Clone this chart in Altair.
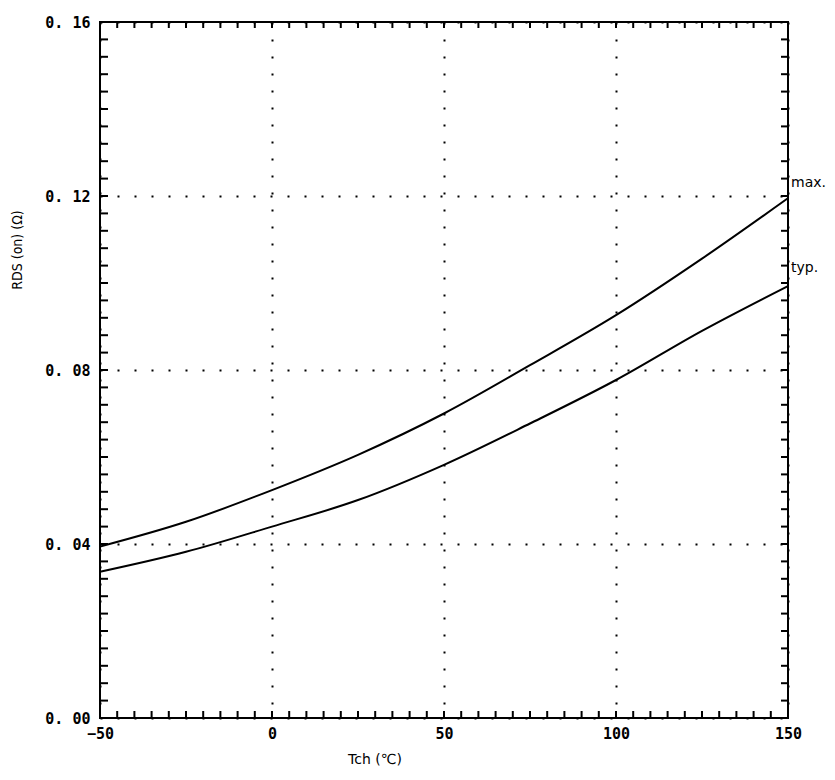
import altair as alt
import pandas as pd
import numpy as np

# Data
temps = [-50, -25, 0, 25, 50, 75, 100, 125, 150]
rds_max = [0.0394, 0.0451, 0.0524, 0.0605, 0.0700, 0.0811, 0.0926, 0.1056, 0.1195]
rds_typ = [0.0336, 0.0382, 0.0440, 0.0501, 0.0582, 0.0677, 0.0777, 0.0890, 0.0993]
x_major = [-50, 0, 50, 100, 150]
y_major = [0.00, 0.04, 0.08, 0.12, 0.16]
x_minor = list(np.arange(-50, 151, 5))
y_minor = [round(v, 3) for v in np.arange(0, 0.1601, 0.004)]
label_text = ["max.", "typ."]
label_x = [150, 150]
label_y = [0.123, 0.1035]

W, H = 688, 696

df = pd.DataFrame({
    "T": temps * 2,
    "R": rds_max + rds_typ,
    "s": ["max."] * len(temps) + ["typ."] * len(temps),
})

xs = alt.Scale(domain=[-50, 150], nice=False, zero=False)
ys = alt.Scale(domain=[0, 0.16], nice=False, zero=False)

lab_font = "DejaVu Sans Mono"

lines = alt.Chart(df).mark_line(color="black", strokeWidth=2, interpolate="monotone").encode(
    x=alt.X("T:Q", scale=xs, title=None,
            axis=alt.Axis(values=x_major, grid=True, gridDash=[2, 15], gridColor="black",
                          gridWidth=2, gridOpacity=1, ticks=False, domain=False,
                          labelFont=lab_font, labelFontSize=15, labelFontWeight="bold",
                          labelColor="black", labelPadding=8, labelFlush=False)),
    y=alt.Y("R:Q", scale=ys, title=None,
            axis=alt.Axis(values=y_major, grid=True, gridDash=[2, 15],
                          labelExpr="replace(format(datum.value, '.2f'), '.', '. ')",
                          gridColor="black", gridWidth=2, gridOpacity=1, ticks=False,
                          domain=False, labelFont=lab_font, labelFontSize=15,
                          labelFontWeight="bold", labelColor="black", labelPadding=10,
                          labelFlush=False)),
    detail="s:N",
)

tx = pd.DataFrame({"T": x_minor})
ty = pd.DataFrame({"R": y_minor})
tick_len = 7

bottom_ticks = alt.Chart(tx).mark_rule(color="black", strokeWidth=2).encode(
    x=alt.X("T:Q", scale=xs), y=alt.value(H), y2=alt.value(H - tick_len))
top_ticks = alt.Chart(tx).mark_rule(color="black", strokeWidth=2).encode(
    x=alt.X("T:Q", scale=xs), y=alt.value(0), y2=alt.value(tick_len - 1))
left_ticks = alt.Chart(ty).mark_rule(color="black", strokeWidth=2).encode(
    y=alt.Y("R:Q", scale=ys), x=alt.value(0), x2=alt.value(tick_len + 1))
right_ticks = alt.Chart(ty).mark_rule(color="black", strokeWidth=2).encode(
    y=alt.Y("R:Q", scale=ys), x=alt.value(W), x2=alt.value(W - tick_len))

lab_df = pd.DataFrame({"T": label_x, "R": label_y, "t": label_text})
labels = alt.Chart(lab_df).mark_text(align="left", baseline="middle", dx=3,
                                     font="DejaVu Sans", fontSize=14, color="black").encode(
    x=alt.X("T:Q", scale=xs), y=alt.Y("R:Q", scale=ys), text="t:N")

ytitle = alt.Chart(pd.DataFrame({"t": ["RDS (on) (Ω)"]})).mark_text(
    angle=270, font="DejaVu Sans Condensed", fontSize=14, color="black",
    align="center", baseline="middle").encode(
    x=alt.value(-82), y=alt.value(228), text="t:N")
xtitle = alt.Chart(pd.DataFrame({"t": ["Tch (℃)"]})).mark_text(
    font="DejaVu Sans", fontSize=14, color="black",
    align="center", baseline="middle").encode(
    x=alt.value(275), y=alt.value(738), text="t:N")

chart = alt.layer(lines, bottom_ticks, top_ticks, left_ticks, right_ticks,
                  labels, ytitle, xtitle).properties(
    width=W, height=H,
    autosize=alt.AutoSizeParams(type="none"),
    padding={"left": 92, "top": 14, "right": 38, "bottom": 48},
    background="white",
).configure_view(stroke="black", strokeWidth=2)

chart.save("out.html", embed_options={"renderer": "svg", "actions": False})
